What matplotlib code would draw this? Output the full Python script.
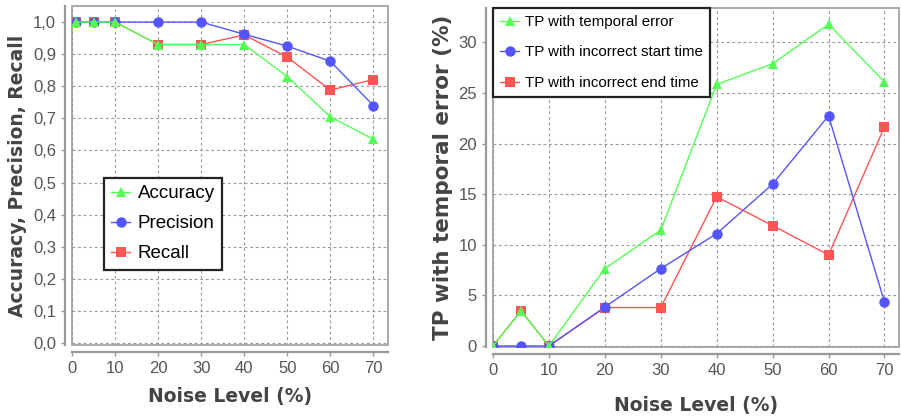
import matplotlib
matplotlib.use("Agg")
import matplotlib.pyplot as plt
from matplotlib.patches import Rectangle

# ---------------- data ----------------
noise_left = [1, 5, 10, 20, 30, 40, 50, 60, 70]
accuracy = [1.0, 1.0, 1.0, 0.93, 0.93, 0.93, 0.83, 0.705, 0.635]
precision = [1.0, 1.0, 1.0, 1.0, 1.0, 0.962, 0.925, 0.878, 0.740]
recall = [1.0, 1.0, 1.0, 0.93, 0.93, 0.960, 0.891, 0.788, 0.821]

noise_right = [0, 5, 10, 20, 30, 40, 50, 60, 70]
tp_temporal = [0.0, 3.45, 0.0, 7.65, 11.45, 25.85, 27.9, 31.8, 26.1]
tp_start = [0.0, 0.0, 0.0, 3.85, 7.65, 11.1, 16.0, 22.75, 4.35]
tp_end = [0.0, 3.5, 0.0, 3.8, 3.8, 14.75, 11.9, 9.0, 21.65]

x_ticks = [0, 10, 20, 30, 40, 50, 60, 70]
left_yticks = [0.0, 0.1, 0.2, 0.3, 0.4, 0.5, 0.6, 0.7, 0.8, 0.9, 1.0]
left_yticklabels = ["0,0", "0,1", "0,2", "0,3", "0,4", "0,5", "0,6", "0,7", "0,8", "0,9", "1,0"]
right_yticks = [0, 5, 10, 15, 20, 25, 30]

GREEN = "#55FF55"
BLUE = "#5555FF"
RED = "#FF5555"

TICKFONT = "Liberation Sans"

fig = plt.figure(figsize=(9.01, 4.2), dpi=100)
fig.patch.set_facecolor("white")

ax1 = fig.add_axes([72 / 901, 1 - 345 / 420, 316 / 901, 339 / 420])
ax2 = fig.add_axes([493 / 901, 1 - 347 / 420, 406 / 901, 339 / 420])


def style(ax):
    for s in ("top", "right"):
        ax.spines[s].set_visible(False)
    for s in ("left", "bottom"):
        ax.spines[s].set_position(("outward", 5))
        ax.spines[s].set_color("#999999")
        ax.spines[s].set_linewidth(1.6)
    ax.add_patch(Rectangle((0, 0), 1, 1, transform=ax.transAxes, fill=False,
                           edgecolor="#aaaaaa", linewidth=1.4, zorder=0.5, clip_on=False))
    ax.grid(True, color="#999999", linestyle=(0, (2.5, 2.5)), linewidth=0.8)
    ax.set_axisbelow(True)
    ax.tick_params(axis="both", colors="#999999", labelcolor="#555555",
                   length=3, width=1, labelsize=12)
    for lab in ax.get_xticklabels() + ax.get_yticklabels():
        lab.set_fontfamily(TICKFONT)


mk = dict(markersize=7.5, linewidth=1.0, markeredgewidth=0)

# ---- left chart ----
ax1.plot(noise_left, recall, color=RED, marker="s", label="Recall", **mk)
ax1.plot(noise_left, precision, color=BLUE, marker="o", label="Precision", **mk)
ax1.plot(noise_left, accuracy, color=GREEN, marker="^", label="Accuracy", **mk)
ax1.set_xlim(0, 73.4)
ax1.set_ylim(-0.006, 1.05)
ax1.set_xticks(x_ticks)
ax1.set_yticks(left_yticks)
ax1.set_yticklabels(left_yticklabels)
style(ax1)
ax1.set_xlabel("Noise Level (%)", fontsize=13.5, fontweight="bold", color="#444444", labelpad=8)
ax1.set_ylabel("Accuracy, Precision, Recall", fontsize=13.5, fontweight="bold", color="#444444", labelpad=4)
h, l = ax1.get_legend_handles_labels()
leg1 = ax1.legend(h[::-1], l[::-1], loc="upper left", bbox_to_anchor=(0.101, 0.493),
                  borderaxespad=0, fancybox=False, framealpha=1, edgecolor="#222222",
                  prop={"family": "Liberation Sans", "size": 13.5}, handlelength=1.0,
                  handletextpad=0.4, labelspacing=0.68, borderpad=0.4)
leg1.get_frame().set_linewidth(1.6)

# ---- right chart ----
ax2.plot(noise_right, tp_end, color=RED, marker="s", label="TP with incorrect end time", **mk)
ax2.plot(noise_right, tp_start, color=BLUE, marker="o", label="TP with incorrect start time", **mk)
ax2.plot(noise_right, tp_temporal, color=GREEN, marker="^", label="TP with temporal error", **mk)
ax2.set_xlim(0, 72.6)
ax2.set_ylim(-0.1, 33.4)
ax2.set_xticks(x_ticks)
ax2.set_yticks(right_yticks)
style(ax2)
ax2.set_xlabel("Noise Level (%)", fontsize=13.5, fontweight="bold", color="#444444", labelpad=13)
ax2.set_ylabel("TP with temporal error (%)", fontsize=15.5, fontweight="bold", color="#444444", labelpad=4)
h, l = ax2.get_legend_handles_labels()
leg2 = ax2.legend(h[::-1], l[::-1], loc="upper left", bbox_to_anchor=(0.0, 1.0),
                  borderaxespad=0, fancybox=False, framealpha=1, edgecolor="#222222",
                  prop={"family": "Liberation Sans", "size": 10.8}, handlelength=1.3,
                  handletextpad=0.4, labelspacing=1.1, borderpad=0.45)
leg2.get_frame().set_linewidth(1.6)

fig.savefig("out.png", dpi=100, facecolor="white")
